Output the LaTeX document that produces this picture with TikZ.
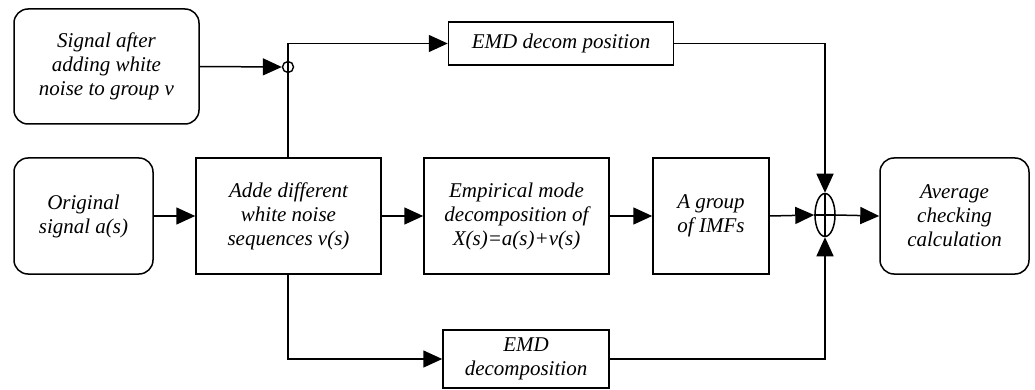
\documentclass[tikz,border=0pt]{standalone}
\usepackage{fontspec}
\setmainfont{Liberation Serif}
\usetikzlibrary{arrows.meta,shapes.geometric}
\begin{document}
\begin{tikzpicture}[x=1pt,y=-1pt,
  box/.style={draw,line width=1.5pt,minimum height=116pt,align=center,inner sep=2pt,font=\fontsize{21}{24}\selectfont\itshape},
  rbox/.style={box,rounded corners=14pt},
  arr/.style={line width=1.5pt,-{Triangle[length=19pt,width=17pt]}},
  ln/.style={line width=1.5pt}]
\useasboundingbox (0,0) rectangle (1035,390);
\node[rbox,minimum width=185pt,minimum height=115pt] (sig) at (106.5,66.5) {Signal after\\adding white\\noise to group v};
\node[rbox,minimum width=139pt] (orig) at (83.5,216) {Original\\signal a(s)};
\node[box,minimum width=185pt] (adde) at (288.5,216) {Adde different\\white noise\\sequences v(s)};
\node[box,minimum width=185pt] (emp) at (516.5,216) {Empirical mode\\decomposition of\\X(s)=a(s)+v(s)};
\node[box,minimum width=116pt] (grp) at (711,216) {A group\\of IMFs};
\node[draw,ellipse,line width=1.5pt,minimum width=20pt,minimum height=43pt,inner sep=0pt] (ell) at (825,215) {};
\node[rbox,minimum width=149pt] (avg) at (954.5,216) {Average\\checking\\calculation};
\node[box,minimum width=225pt,minimum height=43pt] (top) at (561,43.5) {EMD decom position};
\node[box,minimum width=166pt,minimum height=58pt] (bot) at (526,359) {EMD\\decomposition};
\node[circle,draw,line width=1.4pt,minimum size=11pt,inner sep=0pt] (jn) at (288,67) {};
\draw[ln] (jn|-adde.north) -- (jn.center);
\draw[arr] (jn.center) |- (top.west);
\draw[arr] (sig.east) -- (jn.west);
\draw[arr] (orig.east) -- (adde.west);
\draw[arr] (adde.east) -- (emp.west);
\draw[arr] (emp.east) -- (grp.west);
\draw[arr] (grp.east) -- (ell.west);
\draw[arr] (ell.east) -- (avg.west);
\draw[arr] (jn|-adde.south) |- (bot.west);
\draw[arr] (top.east) -| (ell.north);
\draw[arr] (bot.east) -| (ell.south);
\draw[ln] (ell.north) -- (ell.south) (ell.west) -- (ell.east);
\end{tikzpicture}
\end{document}
